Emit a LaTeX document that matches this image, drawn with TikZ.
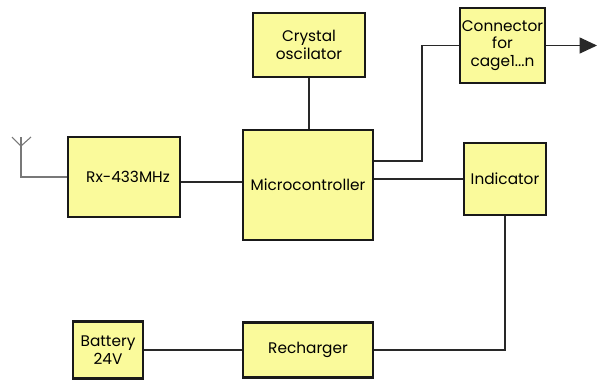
\documentclass[tikz,border=0pt]{standalone}
\usepackage{fontspec}
\setmainfont{Poppins}
\usetikzlibrary{arrows.meta}
\definecolor{boxfill}{RGB}{250,250,155}
\definecolor{wire}{RGB}{40,40,40}
\definecolor{antc}{RGB}{120,120,120}
\tikzset{
  blk/.style={draw=black!90, line width=1.9pt, fill=boxfill, rectangle, inner sep=0pt, align=center, font=\fontsize{11.5}{13}\selectfont},
  wireline/.style={draw=wire, line width=0.8pt},
}
\begin{document}
\begin{tikzpicture}[x=0.75pt,y=-0.75pt]
\useasboundingbox (0,0) rectangle (597,380);
\node[blk, minimum width=112*0.75pt, minimum height=64*0.75pt] (osc) at (309,45) {Crystal\\oscilator};
\node[blk, minimum width=130*0.75pt, minimum height=110*0.75pt] (mcu) at (308,185) {Microcontroller};
\node[blk, minimum width=112*0.75pt, minimum height=80*0.75pt] (rx) at (124,177) {\hspace*{6pt}Rx-433MHz};
\node[blk, minimum width=85*0.75pt, minimum height=75*0.75pt] (conn) at (502.5,45.5) {Connector\\for\\cage1...n};
\node[blk, minimum width=82*0.75pt, minimum height=72*0.75pt] (ind) at (505,179) {Indicator};
\node[blk, minimum width=70*0.75pt, minimum height=57*0.75pt] (bat) at (108,350) {Battery\\24V};
\node[blk, minimum width=130*0.75pt, minimum height=55*0.75pt] (rec) at (308,350) {Recharger};
\coordinate (tip) at (597,45.5);
\coordinate (j1) at (422,161);
\coordinate (antb) at (21,146);
\coordinate (antt) at (21,137);
\coordinate (antl) at (12,137);
\coordinate (antr) at (31,137);
% antenna
\draw[draw=antc, line width=0.8pt] (rx.west) -| (antt);
\draw[draw=antc, line width=0.8pt] (antl) -- (antb) -- (antr);
% wires
\draw[wireline] (osc.south) -- (osc.south |- mcu.north);
\draw[wireline] (rx.east |- 0,182) -- (mcu.west |- 0,182);
\draw[wireline] (j1 -| mcu.east) -- (j1) |- (conn.west);
\draw[wireline, -{Triangle[length=13pt,width=12pt]}] (conn.east) -- (tip);
\draw[wireline] (mcu.east |- ind.west) -- (ind.west);
\draw[wireline] (ind.south) |- (rec.east);
\draw[wireline] (bat.east) -- (rec.west);
\end{tikzpicture}
\end{document}
